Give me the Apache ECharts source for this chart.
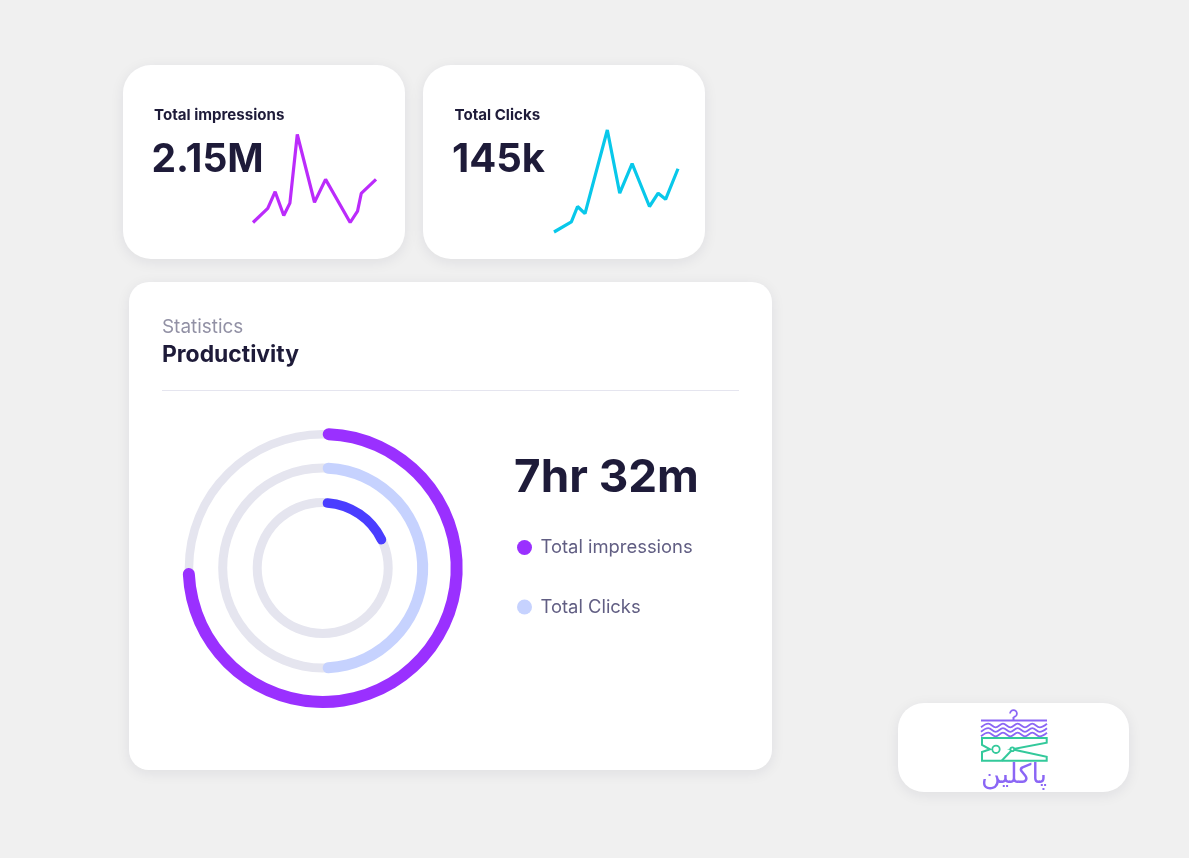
<!DOCTYPE html>
<html>
<head>
<meta charset="utf-8">
<title>Productivity</title>
<script src="https://cdn.jsdelivr.net/npm/echarts@6/dist/echarts.min.js"></script>
<style>
  html, body { margin: 0; padding: 0; background: #f0f0f0; }
  #main { width: 1189px; height: 858px; }
</style>
</head>
<body>
<div id="main"></div>
<script>
// sparkline values, both axes on a 0-100 scale
var impressionsX = [0, 12, 18, 25, 30, 36, 50, 59, 79, 85, 88, 100];
var impressionsY = [0, 16, 35, 8, 22, 100, 23, 49, 0, 13, 33, 49];
var clicksX = [0, 14, 19, 25, 43, 53, 63, 77, 84, 90, 100];
var clicksY = [0, 10, 25, 18, 100, 38, 67, 25, 38, 32, 62];

// rings, outer to inner, percent of the full circle
var ringNames = ['Total impressions', 'Total Clicks', 'Other'];
var ringShares = [75, 50, 19];
var ringColors = ['#9a30ff', '#c6d2fe', '#4a3dff'];

var textDark = '#1e1b39';
var font = 'Inter';

function zip(xs, ys) {
  return xs.map(function (x, i) { return [x, ys[i]]; });
}

function card(x, y, w, h, r) {
  return {
    type: 'rect', z: 0,
    shape: { x: x, y: y, width: w, height: h, r: r },
    style: { fill: '#fff', shadowBlur: 14, shadowColor: 'rgba(30,30,60,0.08)', shadowOffsetY: 3 }
  };
}

function label(text, x, y, size, weight, color) {
  return {
    type: 'text', z: 2, x: x, y: y,
    style: {
      text: text, fill: color, fontFamily: font, fontSize: size, fontWeight: weight,
      textVerticalAlign: 'middle'
    }
  };
}

// logo line work
var logoPurple = '#8b66f5';
var logoGreen = '#33c99b';
function logoLine(points, color, closed) {
  return {
    type: closed ? 'polygon' : 'polyline', z: 2,
    shape: { points: points },
    style: { fill: null, stroke: color, lineWidth: 2 }
  };
}
function wave(y) {
  var pts = [];
  for (var i = 0; i <= 9; i++) {
    pts.push([981 + i * 7.33, y + (i % 2 ? -1.8 : 1.8)]);
  }
  return {
    type: 'polyline', z: 2,
    shape: { points: pts, smooth: 0.4 },
    style: { fill: null, stroke: logoPurple, lineWidth: 1.8 }
  };
}
function logoCircle(cx, cy, r) {
  return {
    type: 'circle', z: 2,
    shape: { cx: cx, cy: cy, r: r },
    style: { fill: '#fff', stroke: logoGreen, lineWidth: 1.8 }
  };
}

var graphics = [
  card(123, 65, 282, 194, 28),
  card(423, 65, 282, 194, 28),
  card(129, 282, 643, 488, 20),
  card(898, 703, 231, 89, 26),
  label('Total impressions', 154, 115, 15.1, 700, textDark),
  label('2.15M', 151.5, 160, 39, 700, textDark),
  label('Total Clicks', 454.5, 115, 15.1, 700, textDark),
  label('145k', 452, 160, 40, 700, textDark),
  label('Statistics', 162, 327, 18.9, 400, '#9291a5'),
  label('Productivity', 162, 355, 22.9, 700, textDark),
  label('7hr 32m', 514, 478, 45.8, 700, textDark),
  {
    type: 'line', z: 2,
    shape: { x1: 162, y1: 390.5, x2: 739, y2: 390.5 },
    style: { stroke: '#e5e5ef', lineWidth: 1 }
  },
  // hanger and waves
  {
    type: 'arc', z: 2,
    shape: { cx: 1013.5, cy: 713.5, r: 3.4, startAngle: -Math.PI, endAngle: Math.PI * 0.5 },
    style: { fill: null, stroke: logoPurple, lineWidth: 1.8 }
  },
  logoLine([[1013.5, 717], [1013.5, 720]], logoPurple),
  logoLine([[981, 720.5], [1047, 720.5]], logoPurple),
  wave(725.5),
  wave(730),
  wave(734.5),
  // clothes peg
  logoLine([[982, 738], [1046.7, 738], [1046.7, 742.7], [1012, 749.3], [1046.7, 756.7], [1046.7, 760.7],
    [982, 760.7], [982, 752], [990, 749.3], [982, 745]], logoGreen, true),
  logoLine([[1001.7, 760.7], [1011, 751]], logoGreen),
  logoCircle(996, 749.3, 3.7),
  logoCircle(1012.3, 749.3, 1.9),
  {
    type: 'text', z: 2, x: 1014, y: 776,
    style: {
      text: 'پاکلین', fill: logoPurple, fontFamily: 'DejaVu Sans', fontSize: 27,
      textAlign: 'center', textVerticalAlign: 'middle'
    }
  }
];

function hiddenAxis(gridIndex) {
  return { type: 'value', gridIndex: gridIndex, min: 0, max: 100, show: false };
}
function spark(name, idx, xs, ys, color) {
  return {
    type: 'line', name: name, xAxisIndex: idx, yAxisIndex: idx,
    data: zip(xs, ys), showSymbol: false, clip: false, silent: true, z: 3,
    lineStyle: { color: color, width: 3.2 }
  };
}

var ringCenter = [322.7, 568];
var ringRadii = [[128, 140], [94.5, 105.5], [60.5, 70]];
var trackRadii = [[129.5, 138], [95.5, 104.5], [61, 70]];

function track(i) {
  return {
    type: 'pie', silent: true, z: 3,
    center: ringCenter, radius: trackRadii[i], startAngle: 90,
    label: { show: false }, labelLine: { show: false },
    data: [{ name: 'track' + i, value: 100, itemStyle: { color: '#e5e5ef' } }]
  };
}
function ring(i) {
  return {
    type: 'pie', silent: true, z: 4,
    center: ringCenter, radius: ringRadii[i], startAngle: 90,
    label: { show: false }, labelLine: { show: false },
    data: [
      { name: ringNames[i], value: ringShares[i], itemStyle: { color: ringColors[i], borderRadius: 6 } },
      { name: 'rest' + i, value: 100 - ringShares[i], itemStyle: { color: 'rgba(0,0,0,0)' } }
    ]
  };
}

var myChart = echarts.init(document.getElementById('main'));
myChart.setOption({
  animation: false,
  backgroundColor: '#f0f0f0',
  textStyle: { fontFamily: font },
  grid: [
    { left: 253, top: 134.5, width: 123, height: 88 },
    { left: 554, top: 130, width: 124, height: 102 }
  ],
  xAxis: [hiddenAxis(0), hiddenAxis(1)],
  yAxis: [hiddenAxis(0), hiddenAxis(1)],
  legend: {
    orient: 'vertical', left: 512, top: 533.5,
    data: ['Total impressions', 'Total Clicks'],
    icon: 'circle', itemWidth: 15, itemHeight: 15, itemGap: 41.5,
    selectedMode: false,
    textStyle: { color: '#615e83', fontSize: 18.4, fontFamily: font, padding: [0, 0, 0, 3.5] }
  },
  graphic: graphics,
  series: [
    spark('Total impressions trend', 0, impressionsX, impressionsY, '#bb2bfb'),
    spark('Total Clicks trend', 1, clicksX, clicksY, '#08c8ea'),
    track(0), track(1), track(2),
    ring(0), ring(1), ring(2)
  ]
});
</script>
</body>
</html>
